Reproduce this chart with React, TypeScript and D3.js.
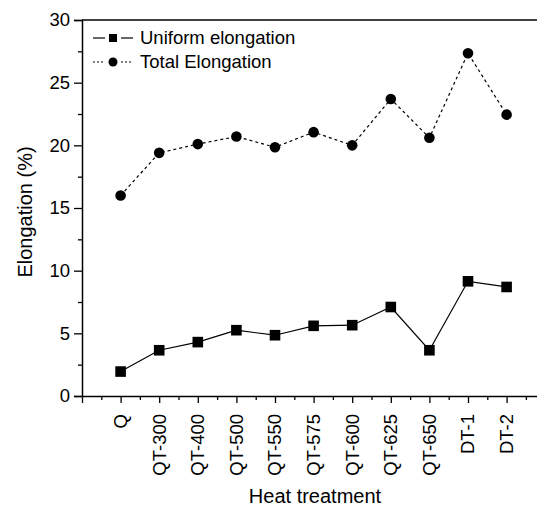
import React, { useRef, useEffect } from "react";
import * as d3 from "d3";

const categories = ["Q", "QT-300", "QT-400", "QT-500", "QT-550", "QT-575", "QT-600", "QT-625", "QT-650", "DT-1", "DT-2"];
const uniformElongation = [1.95, 3.65, 4.3, 5.25, 4.85, 5.6, 5.65, 7.1, 3.65, 9.15, 8.7];
const totalElongation = [16.0, 19.4, 20.1, 20.7, 19.85, 21.05, 20.0, 23.7, 20.6, 27.35, 22.45];
const yTicks = [0, 5, 10, 15, 20, 25, 30];

const W = 537;
const H = 510;

const App = () => {
  const ref = useRef<SVGSVGElement | null>(null);

  useEffect(() => {
    if (!ref.current) return;
    const svg = d3.select(ref.current);
    svg.selectAll("*").remove();

    const left = 82;
    const top = 20;
    const bottom = 396;
    const step = 38.6;

    // index 0 is the y axis, categories start at 1; the frame runs past the window edge
    const x = d3.scaleLinear().domain([0, 12]).range([left, left + 12 * step]);
    const y = d3.scaleLinear().domain([0, 30]).range([bottom, top]);

    const font = "Arial, 'Liberation Sans', sans-serif";

    // frame top line
    svg.append("line")
      .attr("x1", left).attr("x2", x(12)).attr("y1", top).attr("y2", top)
      .attr("stroke", "#000").attr("stroke-width", 1.5);

    // y axis
    const yAxis = svg.append("g").attr("transform", `translate(${left},0)`)
      .call(d3.axisLeft(y).tickValues(yTicks).tickSize(8).tickPadding(4).tickFormat(d3.format("d")));
    yAxis.select(".domain").attr("stroke-width", 1.5);
    yAxis.selectAll(".tick line").attr("stroke-width", 1.3);
    yAxis.selectAll("text").attr("font-size", 18.5).attr("font-family", font).attr("fill", "#000");
    svg.append("g").attr("transform", `translate(${left},0)`)
      .call(d3.axisLeft(y).tickValues(d3.range(2.5, 30, 5)).tickSize(4).tickFormat(() => ""))
      .call((g) => g.select(".domain").remove())
      .selectAll(".tick line").attr("stroke-width", 1.3);

    // x axis
    const xAxis = svg.append("g").attr("transform", `translate(0,${bottom})`)
      .call(d3.axisBottom(x).tickValues(d3.range(0, 13)).tickSize(7).tickSizeOuter(0).tickFormat(() => ""));
    xAxis.select(".domain").attr("stroke-width", 1.5);
    xAxis.selectAll(".tick line").attr("stroke-width", 1.3);
    svg.append("g").attr("transform", `translate(0,${bottom})`)
      .call(d3.axisBottom(x).tickValues(d3.range(0.5, 12, 1)).tickSize(4).tickFormat(() => ""))
      .call((g) => g.select(".domain").remove())
      .selectAll(".tick line").attr("stroke-width", 1.3);

    svg.append("g").selectAll("text").data(categories).enter().append("text")
      .attr("transform", (d, i) => `translate(${x(i + 1)},${bottom + 18}) rotate(-90)`)
      .attr("text-anchor", "end").attr("dy", "0.35em")
      .attr("font-size", 18.5).attr("font-family", font)
      .text((d) => d);

    // axis titles
    svg.append("text")
      .attr("x", 315).attr("y", 503).attr("text-anchor", "middle")
      .attr("font-size", 20).attr("font-family", font).text("Heat treatment");
    svg.append("text")
      .attr("transform", `translate(32,${(top + bottom) / 2 + 4}) rotate(-90)`)
      .attr("text-anchor", "middle")
      .attr("font-size", 20).attr("font-family", font).text("Elongation (%)");

    const line = d3.line<number>().x((d, i) => x(i + 1)).y((d) => y(d));

    svg.append("path").datum(totalElongation).attr("d", line)
      .attr("fill", "none").attr("stroke", "#000").attr("stroke-width", 1.2)
      .attr("stroke-dasharray", "3,3");
    svg.append("path").datum(uniformElongation).attr("d", line)
      .attr("fill", "none").attr("stroke", "#000").attr("stroke-width", 1.2);

    svg.append("g").selectAll("circle").data(totalElongation).enter().append("circle")
      .attr("cx", (d, i) => x(i + 1)).attr("cy", (d) => y(d)).attr("r", 5.3).attr("fill", "#000");
    svg.append("g").selectAll("rect").data(uniformElongation).enter().append("rect")
      .attr("x", (d, i) => x(i + 1) - 5.3).attr("y", (d) => y(d) - 5.3)
      .attr("width", 10.6).attr("height", 10.6).attr("fill", "#000");

    // legend
    const lg = svg.append("g");
    [[93, 105], [121, 133]].forEach(([a, b]) => {
      lg.append("line").attr("x1", a).attr("x2", b).attr("y1", 38).attr("y2", 38)
        .attr("stroke", "#000").attr("stroke-width", 1.2);
      lg.append("line").attr("x1", a).attr("x2", b).attr("y1", 62).attr("y2", 62)
        .attr("stroke", "#000").attr("stroke-width", 1.2).attr("stroke-dasharray", "2,2");
    });
    lg.append("rect").attr("x", 109).attr("y", 34).attr("width", 8).attr("height", 8).attr("fill", "#000");
    lg.append("text").attr("x", 140).attr("y", 38).attr("dy", "0.35em")
      .attr("font-size", 18.5).attr("font-family", font).text("Uniform elongation");
    lg.append("circle").attr("cx", 113).attr("cy", 62).attr("r", 4.5).attr("fill", "#000");
    lg.append("text").attr("x", 140).attr("y", 62).attr("dy", "0.35em")
      .attr("font-size", 18.5).attr("font-family", font).text("Total Elongation");
  }, []);

  return (
    <svg ref={ref} width={W} height={H}
      style={{ position: "absolute", left: 0, top: 0, background: "#fff" }} />
  );
};

export default App;
